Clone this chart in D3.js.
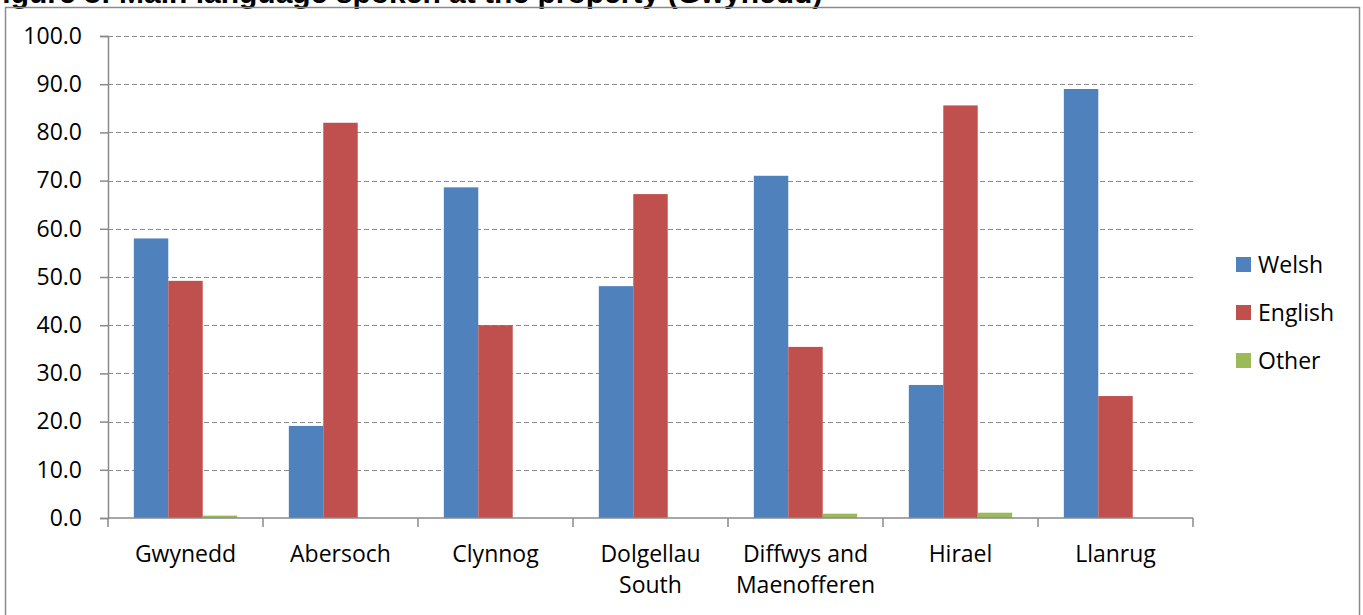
<!DOCTYPE html>
<html>
<head>
<meta charset="utf-8">
<script src="https://cdn.jsdelivr.net/npm/d3@7"></script>
<style>
  body { margin: 0; background: #fff; }
  svg { display: block; font-family: "Open Sans", sans-serif; }
</style>
</head>
<body>
<div id="chart"></div>
<script>
var categories = ['Gwynedd', 'Abersoch', 'Clynnog', 'Dolgellau South', 'Diffwys and Maenofferen', 'Hirael', 'Llanrug']
var categoryLines = [['Gwynedd'], ['Abersoch'], ['Clynnog'], ['Dolgellau', 'South'], ['Diffwys and', 'Maenofferen'], ['Hirael'], ['Llanrug']]
var seriesNames = ['Welsh', 'English', 'Other']
var welsh = [58.0, 19.1, 68.6, 48.1, 71.0, 27.6, 89.0]
var english = [49.2, 82.0, 40.0, 67.2, 35.5, 85.6, 25.3]
var other = [0.5, 0, 0, 0, 0.9, 1.1, 0]
var yTicks = [0, 10, 20, 30, 40, 50, 60, 70, 80, 90, 100]
var colors = ['#4F81BD', '#C0504D', '#9BBB59']

var W = 1363, H = 615
var margin = {left: 108, right: 170, top: 36, bottom: 97}
var series = [welsh, english, other]

var svg = d3.select('#chart').append('svg')
  .attr('width', W)
  .attr('height', H)

// title, cut off at the top like the source image
svg.append('text')
  .attr('x', -16)
  .attr('y', 3)
  .attr('font-family', 'Liberation Sans, Arial, sans-serif')
  .attr('font-weight', 'bold')
  .attr('font-size', 30)
  .text('Figure 8: Main language spoken at the property (Gwynedd)')

// chart frame
svg.append('rect')
  .attr('x', 5.5)
  .attr('y', 7.5)
  .attr('width', 1354)
  .attr('height', 620)
  .attr('fill', 'none')
  .attr('stroke', '#8a8a8a')
  .attr('stroke-width', 1.5)

var x0 = d3.scaleBand()
  .domain(categories)
  .range([margin.left, W - margin.right])
  .paddingInner(0)
  .paddingOuter(0)

var x1 = d3.scaleBand()
  .domain(seriesNames)
  .range([0, x0.bandwidth()])
  .paddingOuter(0.75)
  .paddingInner(0)

var y = d3.scaleLinear()
  .domain([0, 100])
  .range([H - margin.bottom, margin.top])

// gridlines
svg.append('g')
  .selectAll('line')
  .data(yTicks.filter(function (d) { return d > 0 }))
  .join('line')
  .attr('x1', margin.left)
  .attr('x2', W - margin.right)
  .attr('y1', function (d) { return Math.round(y(d)) + 0.5 })
  .attr('y2', function (d) { return Math.round(y(d)) + 0.5 })
  .attr('stroke', '#8c8c8c')
  .attr('stroke-width', 1.2)
  .attr('stroke-dasharray', '5,3')

// bars
var groups = svg.append('g')
  .selectAll('g')
  .data(categories)
  .join('g')
  .attr('transform', function (d) { return 'translate(' + x0(d) + ',0)' })

groups.selectAll('rect')
  .data(function (d, i) {
    return seriesNames.map(function (s, j) { return {s: s, v: series[j][i], c: colors[j]} })
  })
  .join('rect')
  .attr('x', function (d) { return x1(d.s) })
  .attr('width', x1.bandwidth())
  .attr('y', function (d) { return y(d.v) })
  .attr('height', function (d) { return y(0) - y(d.v) })
  .attr('fill', function (d) { return d.c })

// y axis
var yAxis = svg.append('g')
  .attr('transform', 'translate(' + margin.left + ',0)')
  .call(d3.axisLeft(y).tickValues(yTicks).tickSize(8).tickFormat(d3.format('.1f')))
yAxis.select('.domain').attr('stroke', '#8a8a8a').attr('stroke-width', 1.5)
yAxis.selectAll('.tick line').attr('stroke', '#8a8a8a').attr('stroke-width', 1.5)
yAxis.selectAll('.tick text')
  .attr('x', -26)
  .attr('font-size', 23)
  .attr('font-family', 'Open Sans, sans-serif')
  .attr('fill', '#000')

// x axis
var xAxisG = svg.append('g')
var bounds = categories.map(function (c) { return x0(c) }).concat([W - margin.right])
xAxisG.append('line')
  .attr('x1', margin.left)
  .attr('x2', W - margin.right)
  .attr('y1', y(0))
  .attr('y2', y(0))
  .attr('stroke', '#8a8a8a')
  .attr('stroke-width', 1.5)
xAxisG.selectAll('line.tk')
  .data(bounds)
  .join('line')
  .attr('class', 'tk')
  .attr('x1', function (d) { return d })
  .attr('x2', function (d) { return d })
  .attr('y1', y(0))
  .attr('y2', y(0) + 9)
  .attr('stroke', '#8a8a8a')
  .attr('stroke-width', 1.5)

xAxisG.selectAll('text.cat')
  .data(categories)
  .join('text')
  .attr('class', 'cat')
  .attr('x', function (d) { return x0(d) + x0.bandwidth() / 2 })
  .attr('y', y(0) + 44)
  .attr('text-anchor', 'middle')
  .attr('font-size', 23)
  .each(function (d, i) {
    d3.select(this).selectAll('tspan')
      .data(categoryLines[i])
      .join('tspan')
      .attr('x', x0(d) + x0.bandwidth() / 2)
      .attr('dy', function (t, k) { return k === 0 ? 0 : 31 })
      .text(function (t) { return t })
  })

// legend
var legend = svg.append('g')
  .selectAll('g')
  .data(seriesNames)
  .join('g')
  .attr('transform', function (d, i) { return 'translate(1236,' + (257 + i * 48) + ')' })
legend.append('rect')
  .attr('width', 15)
  .attr('height', 15)
  .attr('fill', function (d, i) { return colors[i] })
legend.append('text')
  .attr('x', 22)
  .attr('y', 15.5)
  .attr('font-size', 23)
  .text(function (d) { return d })
</script>
</body>
</html>
